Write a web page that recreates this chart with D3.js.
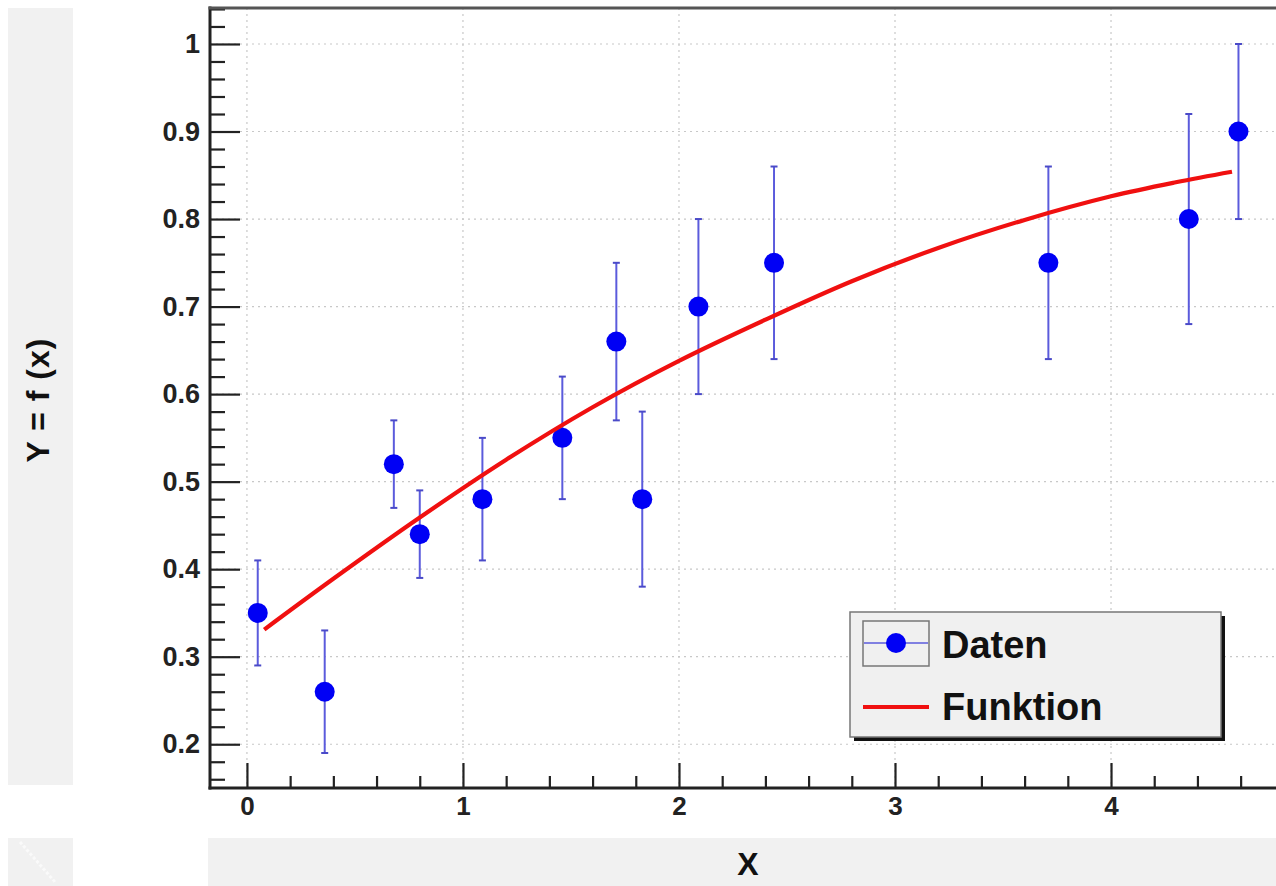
<!DOCTYPE html>
<html>
<head>
<meta charset="utf-8">
<script src="https://cdn.jsdelivr.net/npm/d3@7"></script>
<style>
  html, body { margin: 0; padding: 0; background: #fff; }
  svg { display: block; font-family: "Liberation Sans", Arial, Helvetica, sans-serif; }
</style>
</head>
<body>
<svg id="chart" width="1276" height="886"></svg>
<script>
// ---- data ----
const dataX   = [0.05, 0.36, 0.68, 0.80, 1.09, 1.46, 1.71, 1.83, 2.09, 2.44, 3.71, 4.36, 4.59];
const dataY   = [0.35, 0.26, 0.52, 0.44, 0.48, 0.55, 0.66, 0.48, 0.70, 0.75, 0.75, 0.80, 0.90];
const dataErr = [0.06, 0.07, 0.05, 0.05, 0.07, 0.07, 0.09, 0.10, 0.10, 0.11, 0.11, 0.12, 0.10];

const fitX = [0.08, 0.40, 0.80, 1.20, 1.60, 2.00, 2.40, 2.80, 3.20, 3.60, 4.00, 4.30, 4.56];
const fitY = [0.331, 0.389, 0.459, 0.525, 0.585, 0.638, 0.685, 0.729, 0.767, 0.799, 0.826, 0.842, 0.854];

const xTickValues = [0, 1, 2, 3, 4];
const xTickLabels = ["0", "1", "2", "3", "4"];
const yTickValues = [0.2, 0.3, 0.4, 0.5, 0.6, 0.7, 0.8, 0.9, 1.0];
const yTickLabels = ["0.2", "0.3", "0.4", "0.5", "0.6", "0.7", "0.8", "0.9", "1"];

const legendLabels = ["Daten", "Funktion"];
const xTitle = "X";
const yTitle = "Y = f (x)";

// ---- layout ----
const svg = d3.select("#chart");
const L = 210, R = 1286, T = 8, B = 788;

const x = d3.scaleLinear().domain([-0.171, 4.81]).range([L, R]);
const y = d3.scaleLinear().domain([0.15, 1.0411]).range([B, T]);

// side panels
svg.append("rect").attr("x", 8).attr("y", 8).attr("width", 65).attr("height", 777).attr("fill", "#f1f1f1");
svg.append("rect").attr("x", 8).attr("y", 838).attr("width", 65).attr("height", 48).attr("fill", "#f1f1f1");
svg.append("line").attr("x1", 20).attr("y1", 842).attr("x2", 55).attr("y2", 882)
  .attr("stroke", "#fafafa").attr("stroke-width", 3).attr("stroke-dasharray", "3,2");
svg.append("rect").attr("x", 208).attr("y", 838).attr("width", 1068).attr("height", 48).attr("fill", "#f1f1f1");

// grid
const grid = svg.append("g");
grid.selectAll("line.gx").data(xTickValues).join("line")
  .attr("x1", d => x(d)).attr("x2", d => x(d)).attr("y1", T).attr("y2", B)
  .attr("stroke", "#c8c8c8").attr("stroke-width", 1.2).attr("stroke-dasharray", "2,4");
grid.selectAll("line.gy").data(yTickValues).join("line")
  .attr("y1", d => y(d)).attr("y2", d => y(d)).attr("x1", L).attr("x2", R)
  .attr("stroke", "#c8c8c8").attr("stroke-width", 1.2).attr("stroke-dasharray", "2,4");

// minor ticks
const yMinor = d3.range(0.16, 1.041, 0.02).filter(v => Math.abs(Math.round(v * 10) - v * 10) > 1e-6);
const xMinor = d3.range(-0.2, 4.81, 0.2).filter(v => v > -0.171 && Math.abs(Math.round(v) - v) > 1e-6);

const yMinorAxis = d3.axisLeft(y).tickValues(yMinor).tickSize(-15).tickFormat("");
const xMinorAxis = d3.axisBottom(x).tickValues(xMinor).tickSize(-12).tickFormat("");
svg.append("g").attr("transform", `translate(${L},0)`).call(yMinorAxis)
  .call(g => g.select(".domain").remove())
  .call(g => g.selectAll("line").attr("stroke", "#222").attr("stroke-width", 2.2));
svg.append("g").attr("transform", `translate(0,${B})`).call(xMinorAxis)
  .call(g => g.select(".domain").remove())
  .call(g => g.selectAll("line").attr("stroke", "#222").attr("stroke-width", 2.2));

// major axes
const yAxis = d3.axisLeft(y).tickValues(yTickValues).tickSize(-30).tickPadding(10)
  .tickFormat((d, i) => yTickLabels[i]);
const xAxis = d3.axisBottom(x).tickValues(xTickValues).tickSize(-25).tickPadding(9)
  .tickFormat((d, i) => xTickLabels[i]);
svg.append("g").attr("transform", `translate(${L},0)`).call(yAxis)
  .call(g => g.select(".domain").remove())
  .call(g => g.selectAll("line").attr("stroke", "#222").attr("stroke-width", 2.2))
  .call(g => g.selectAll("text").attr("font-size", 27).attr("font-weight", "bold").attr("fill", "#222")
    .attr("font-family", "Liberation Sans, Arial, sans-serif"));
svg.append("g").attr("transform", `translate(0,${B})`).call(xAxis)
  .call(g => g.select(".domain").remove())
  .call(g => g.selectAll("line").attr("stroke", "#222").attr("stroke-width", 2.2))
  .call(g => g.selectAll("text").attr("font-size", 26).attr("font-weight", "bold").attr("fill", "#222")
    .attr("font-family", "Liberation Sans, Arial, sans-serif"));

// frame
svg.append("line").attr("x1", L).attr("x2", L).attr("y1", T - 1.5).attr("y2", B + 1.5)
  .attr("stroke", "#222").attr("stroke-width", 3);
svg.append("line").attr("x1", L - 1.5).attr("x2", 1276).attr("y1", B).attr("y2", B)
  .attr("stroke", "#222").attr("stroke-width", 3);
svg.append("line").attr("x1", L - 1.5).attr("x2", 1276).attr("y1", T).attr("y2", T)
  .attr("stroke", "#555").attr("stroke-width", 3);

// data
const pts = dataX.map((d, i) => ({ x: d, y: dataY[i], e: dataErr[i] }));
const eb = svg.append("g");
eb.selectAll("line.bar").data(pts).join("line")
  .attr("x1", d => x(d.x)).attr("x2", d => x(d.x))
  .attr("y1", d => y(d.y - d.e)).attr("y2", d => y(d.y + d.e))
  .attr("stroke", "#5b5bdc").attr("stroke-width", 2);
eb.selectAll("line.capt").data(pts).join("line")
  .attr("x1", d => x(d.x) - 3.5).attr("x2", d => x(d.x) + 3.5)
  .attr("y1", d => y(d.y + d.e)).attr("y2", d => y(d.y + d.e))
  .attr("stroke", "#4a4ac8").attr("stroke-width", 2);
eb.selectAll("line.capb").data(pts).join("line")
  .attr("x1", d => x(d.x) - 3.5).attr("x2", d => x(d.x) + 3.5)
  .attr("y1", d => y(d.y - d.e)).attr("y2", d => y(d.y - d.e))
  .attr("stroke", "#4a4ac8").attr("stroke-width", 2);

// fit curve
const fit = fitX.map((d, i) => [d, fitY[i]]);
const line = d3.line().x(d => x(d[0])).y(d => y(d[1])).curve(d3.curveCatmullRom);

svg.append("g").selectAll("circle").data(pts).join("circle")
  .attr("cx", d => x(d.x)).attr("cy", d => y(d.y)).attr("r", 10)
  .attr("fill", "#0000f5");

svg.append("path").attr("d", line(fit)).attr("fill", "none")
  .attr("stroke", "#f01010").attr("stroke-width", 4.2).attr("stroke-linecap", "butt");

// legend
const lg = svg.append("g");
lg.append("rect").attr("x", 854).attr("y", 616).attr("width", 371).attr("height", 125).attr("fill", "#111");
lg.append("rect").attr("x", 850).attr("y", 612).attr("width", 371).attr("height", 125)
  .attr("fill", "#f0f0f0").attr("stroke", "#777").attr("stroke-width", 1.5);
lg.append("rect").attr("x", 863).attr("y", 621).attr("width", 66).attr("height", 45)
  .attr("fill", "#f0f0f0").attr("stroke", "#777").attr("stroke-width", 1.5);
lg.append("line").attr("x1", 864).attr("x2", 928).attr("y1", 643).attr("y2", 643)
  .attr("stroke", "#5b5bdc").attr("stroke-width", 1.5);
lg.append("circle").attr("cx", 896).attr("cy", 643).attr("r", 10).attr("fill", "#0000f5");
lg.append("line").attr("x1", 863).attr("x2", 929).attr("y1", 707).attr("y2", 707)
  .attr("stroke", "#f01010").attr("stroke-width", 4.2);
lg.selectAll("text").data(legendLabels).join("text")
  .attr("x", 942).attr("y", (d, i) => 658 + i * 62)
  .attr("font-size", 38).attr("font-weight", "bold").attr("fill", "#111")
  .text(d => d);

// titles
svg.append("text").attr("x", 748).attr("y", 875).attr("text-anchor", "middle")
  .attr("font-size", 32).attr("font-weight", "bold").attr("fill", "#111").text(xTitle);
svg.append("text").attr("transform", "translate(49,400) rotate(-90)").attr("text-anchor", "middle")
  .attr("font-size", 32).attr("font-weight", "bold").attr("letter-spacing", 1).attr("fill", "#111").text(yTitle);
</script>
</body>
</html>
